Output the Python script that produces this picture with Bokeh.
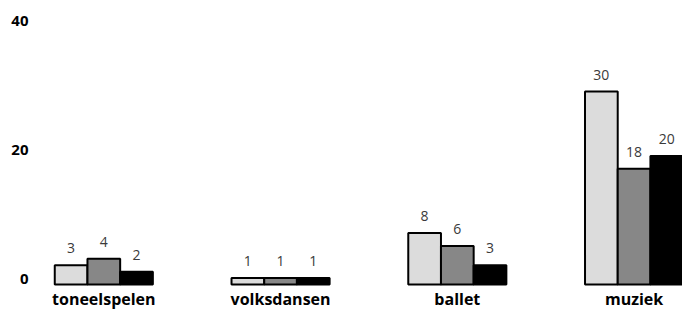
import numpy as np
from bokeh.plotting import figure
from bokeh.models import ColumnDataSource, Range1d
from bokeh.core.properties import value
from bokeh.embed import file_html
from bokeh.resources import INLINE

categories = ["toneelspelen", "volksdansen", "ballet", "muziek"]
series_a = [3, 1, 8, 30]
series_b = [4, 1, 6, 18]
series_c = [2, 1, 3, 20]
y_ticks = [0, 20, 40]

colors = ["#dcdcdc", "#878787", "#000000"]
bar_w = 0.185

xr = Range1d(-0.5845, 3.274)
p = figure(width=682, height=310, output_backend="svg", toolbar_location=None,
           x_range=xr, y_range=Range1d(-4.04, 44.17), min_border=0)
p.axis.visible = False
p.grid.visible = False
p.outline_line_color = None
p.background_fill_color = "white"

idx = np.arange(len(categories))
for k, (vals, col) in enumerate(zip([series_a, series_b, series_c], colors)):
    xs = idx + (k - 1) * bar_w
    src = ColumnDataSource(dict(x=xs, top=vals, lab=[str(v) for v in vals]))
    p.vbar(x="x", top="top", bottom=0, width=bar_w, source=src,
           fill_color=col, line_color="black", line_width=2)
    p.text(x="x", y="top", text="lab", source=src, y_offset=-17,
           text_align="center", text_baseline="alphabetic",
           text_font=value("Open Sans"), text_font_size="14px",
           text_color="#3a3a3a")

cat_src = ColumnDataSource(dict(x=idx, y=[0] * len(categories), t=categories))
p.text(x="x", y="y", text="t", source=cat_src, y_offset=14,
       text_align="center", text_baseline="alphabetic",
       text_font=value("Open Sans"), text_font_style="bold",
       text_font_size="16px", text_color="black")

tick_src = ColumnDataSource(dict(x=[xr.start] * len(y_ticks), y=y_ticks,
                                 t=[str(t) for t in y_ticks]))
p.text(x="x", y="y", text="t", source=tick_src, x_offset=28, y_offset=-6,
       text_align="right", text_baseline="alphabetic",
       text_font=value("Open Sans"), text_font_style="bold",
       text_font_size="15px", text_color="black")

open("out.html", "w").write(file_html(p, INLINE))
